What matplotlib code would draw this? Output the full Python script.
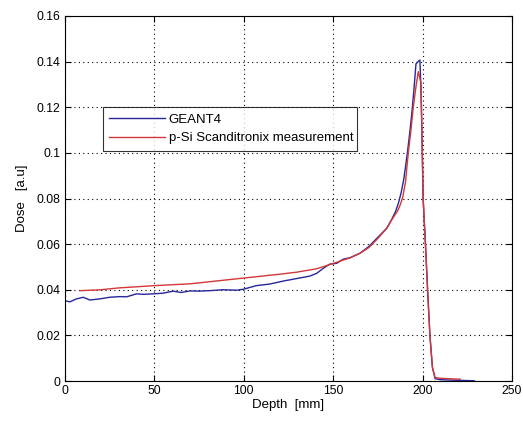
import matplotlib
matplotlib.use("Agg")
import matplotlib.pyplot as plt
from matplotlib.ticker import MultipleLocator

plt.rcParams['font.family'] = ['Liberation Sans', 'DejaVu Sans']

geant_depth = [0, 2.8, 6.5, 10.3, 14, 19.6, 25, 30.8, 34.5, 40, 43.8, 49.4, 55, 60.6, 65, 70,
               75, 81, 88.5, 96, 99.7, 107, 114.6, 122, 129.6, 137, 140.8, 144.5, 148, 152,
               155.6, 159.4, 165, 170, 175, 180, 182.7, 185, 186.5, 188, 189.5, 191.5, 193,
               194.3, 195.3, 196.3, 197.5, 198.5, 199, 199.6, 200.3, 201.6, 202.8, 204.1,
               205.5, 207, 210, 215, 220, 225, 229]
geant_dose = [0.0352, 0.0347, 0.0360, 0.0367, 0.0355, 0.0360, 0.0367, 0.0370, 0.0369, 0.0382,
              0.0380, 0.0382, 0.0385, 0.0394, 0.0388, 0.0395, 0.0394, 0.0396, 0.0400, 0.0398,
              0.0402, 0.0418, 0.0425, 0.0438, 0.0449, 0.0460, 0.0472, 0.0494, 0.0512, 0.0516,
              0.0534, 0.0540, 0.0560, 0.0590, 0.0630, 0.0670, 0.0708, 0.0745, 0.0780, 0.0825,
              0.0885, 0.1000, 0.1100, 0.1200, 0.1290, 0.1390, 0.1400, 0.1407, 0.1300, 0.1100,
              0.0800, 0.0600, 0.0400, 0.0200, 0.0060, 0.0010, 0.0006, 0.0004, 0.0003, 0.0002,
              0.0001]

meas_depth = [8.4, 20, 30, 50, 70, 99.7, 120, 129.6, 140.8, 148, 159.4, 165, 170, 175, 180,
              182.7, 186, 187.5, 188.9, 190.5, 192, 193.5, 194.8, 196.3, 197.6, 199.1, 199.5,
              200.3, 201.6, 202.8, 204.1, 205.5, 207, 210, 215, 221]
meas_dose = [0.0396, 0.0400, 0.0408, 0.0418, 0.0426, 0.0451, 0.0468, 0.0477, 0.0492, 0.0510,
             0.0540, 0.0560, 0.0585, 0.0625, 0.0670, 0.0706, 0.0745, 0.0772, 0.0805, 0.0875,
             0.1000, 0.1100, 0.1200, 0.1290, 0.1356, 0.1306, 0.1150, 0.0800, 0.0600, 0.0400,
             0.0200, 0.0060, 0.0015, 0.0012, 0.0010, 0.0008]

fig = plt.figure(figsize=(5.23, 4.21), dpi=100)
ax = fig.add_axes([0.124, 0.095, 0.855, 0.867])

ax.plot(geant_depth, geant_dose, color='#25279a', lw=1.0, label='GEANT4')
ax.plot(meas_depth, meas_dose, color='#d23838', lw=1.0, label='p-Si Scanditronix measurement')

ax.set_xlim(0, 250)
ax.set_ylim(0, 0.16)
ax.xaxis.set_major_locator(MultipleLocator(50))
ax.yaxis.set_major_locator(MultipleLocator(0.02))
ax.yaxis.set_major_formatter(plt.FuncFormatter(lambda v, p: ('%g' % round(v, 4))))
ax.grid(True, color='black', linestyle=(0, (1, 3)), linewidth=0.8)
ax.tick_params(direction='in', top=True, right=True, length=4, labelsize=8.8, pad=3)
ax.set_xlabel('Depth  [mm]', fontsize=9.5, labelpad=1)
ax.set_ylabel('Dose   [a.u]', fontsize=9.5, labelpad=6)
for s in ax.spines.values():
    s.set_linewidth(0.8)

leg = ax.legend(loc='lower left', bbox_to_anchor=(0.085, 0.63, 0.568, 0.12), mode='expand',
                fontsize=9.5, frameon=True, fancybox=False, handlelength=4.2,
                borderaxespad=0, borderpad=0.5, labelspacing=0.5, handletextpad=0.3)
leg.get_frame().set_edgecolor('black')
leg.get_frame().set_linewidth(0.8)

fig.savefig('out.png', dpi=100, facecolor='white')
